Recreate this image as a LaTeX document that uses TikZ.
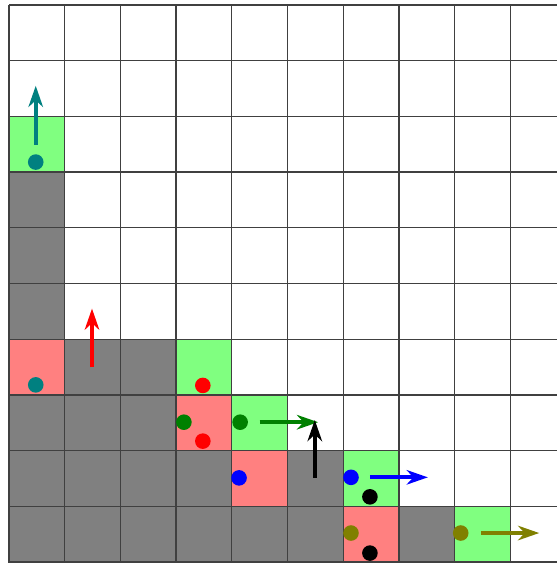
\documentclass[tikz,border=0pt]{standalone}
\usetikzlibrary{arrows.meta}
\definecolor{cellgrey}{HTML}{808080}
\definecolor{cellred}{HTML}{FF8080}
\definecolor{cellgreen}{HTML}{80FF80}
\definecolor{dteal}{HTML}{008080}
\definecolor{dgreen}{HTML}{008000}
\definecolor{dolive}{HTML}{808000}
\tikzset{
  gridline/.style={draw=black!75, line width=0.7pt},
  dot/.style={circle, inner sep=0pt, minimum size=0.28cm},
  mv/.style={line width=2.2pt, -{Stealth[length=3.8mm, width=2.6mm, inset=1.2mm]}},
}
\begin{document}
\begin{tikzpicture}
\useasboundingbox (-0.1616,-0.018) rectangle (9.838,10.09);
\clip (-0.1616,-0.018) rectangle (9.838,10.09);
% grey cells
\foreach \x/\y in {0/0,0/1,0/2,0/4,0/5,0/6,1/0,1/1,1/2,1/3,2/0,2/1,2/2,2/3,3/0,3/1,4/0,5/0,5/1,7/0}
  \fill[cellgrey] (\x,\y) rectangle ++(1,1);
% red cells
\foreach \x/\y in {0/3,3/2,4/1,6/0}
  \fill[cellred] (\x,\y) rectangle ++(1,1);
% green cells
\foreach \x/\y in {0/7,3/3,4/2,6/1,8/0}
  \fill[cellgreen] (\x,\y) rectangle ++(1,1);
% grid
\draw[gridline] (0,-0.5) grid (10.5,10);
% dots
\node[dot, fill=dteal] (t1) at (0.48,7.18) {};
\node[dot, fill=dteal] (t2) at (0.48,3.18) {};
\node[dot, fill=red] (r1) at (3.48,3.17) {};
\node[dot, fill=red] (r2) at (3.48,2.17) {};
\node[dot, fill=dgreen] (g1) at (3.14,2.51) {};
\node[dot, fill=dgreen] (g2) at (4.15,2.51) {};
\node[dot, fill=blue] (b1) at (4.13,1.51) {};
\node[dot, fill=blue] (b2) at (6.14,1.52) {};
\node[dot, fill=black] (k1) at (6.48,1.17) {};
\node[dot, fill=black] (k2) at (6.48,0.16) {};
\node[dot, fill=dolive] (o1) at (6.14,0.52) {};
\node[dot, fill=dolive] (o2) at (8.11,0.52) {};
% arrows
\coordinate (ta) at (0.48,7.49); \coordinate (tb) at (0.48,8.55);
\coordinate (ra) at (1.49,3.50); \coordinate (rb) at (1.49,4.55);
\coordinate (ga) at (4.5,2.51); \coordinate (gb) at (5.55,2.51);
\coordinate (ka) at (5.49,1.51); \coordinate (kb) at (5.49,2.55);
\coordinate (ba) at (6.48,1.52); \coordinate (bb) at (7.52,1.52);
\coordinate (oa) at (8.47,0.52); \coordinate (ob) at (9.52,0.52);
\draw[mv, dteal] (ta) -- (tb);
\draw[mv, red] (ra) -- (rb);
\draw[mv, dgreen] (ga) -- (gb);
\draw[mv, black] (ka) -- (kb);
\draw[mv, blue] (ba) -- (bb);
\draw[mv, dolive] (oa) -- (ob);
\end{tikzpicture}
\end{document}
